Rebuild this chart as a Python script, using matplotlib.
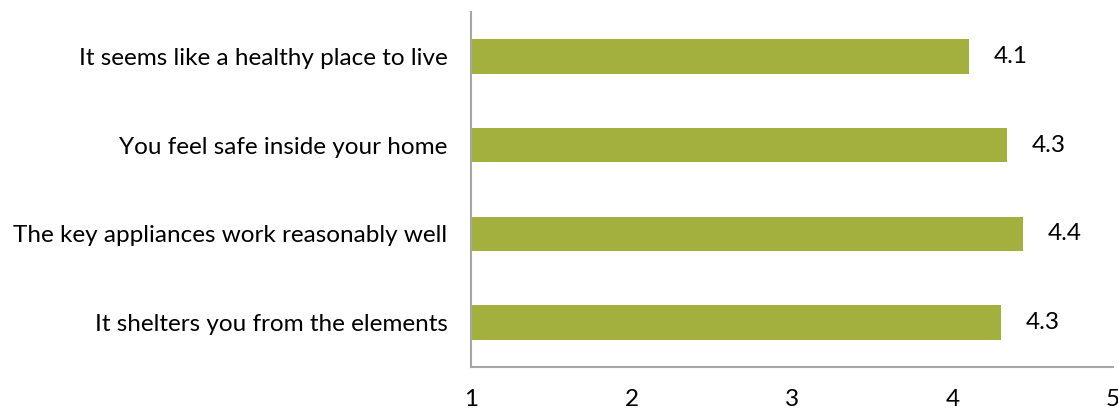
import numpy as np
import matplotlib.pyplot as plt

plt.rcParams['font.family'] = ['Lato', 'DejaVu Sans']

# survey items, top to bottom
items = [
    'It seems like a healthy place to live',
    'You feel safe inside your home',
    'The key appliances work reasonably well',
    'It shelters you from the elements',
]
scores = [4.1, 4.34, 4.44, 4.3]
ticks = [1, 2, 3, 4, 5]

bar_color = '#a3b03d'
spine_color = '#a6a6a6'
fs = 17.5

fig = plt.figure(figsize=(11.18, 4.12), dpi=100)
ax = fig.add_axes([0.4213, 0.109, 0.5742, 0.862])

y = np.arange(len(items))
ax.barh(y, [s - 1 for s in scores], left=1, height=0.39, color=bar_color)

for yi, s in zip(y, scores):
    ax.annotate(f'{s:.1f}', xy=(s, yi), xytext=(25, 0), textcoords='offset pixels',
                va='center', ha='left', fontsize=fs, color='black')

ax.set_xlim(1, 5)
ax.set_ylim(len(items) - 0.5, -0.5)
ax.set_xticks(ticks)
ax.set_xticklabels([str(t) for t in ticks], fontsize=fs)
ax.set_yticks(y)
ax.set_yticklabels(items, fontsize=fs)
ax.tick_params(axis='both', length=0)
ax.tick_params(axis='x', pad=16)
ax.tick_params(axis='y', pad=17)

for side in ['top', 'right']:
    ax.spines[side].set_visible(False)
for side in ['left', 'bottom']:
    ax.spines[side].set_color(spine_color)
    ax.spines[side].set_linewidth(1.5)

fig.savefig('out.png', dpi=100)
